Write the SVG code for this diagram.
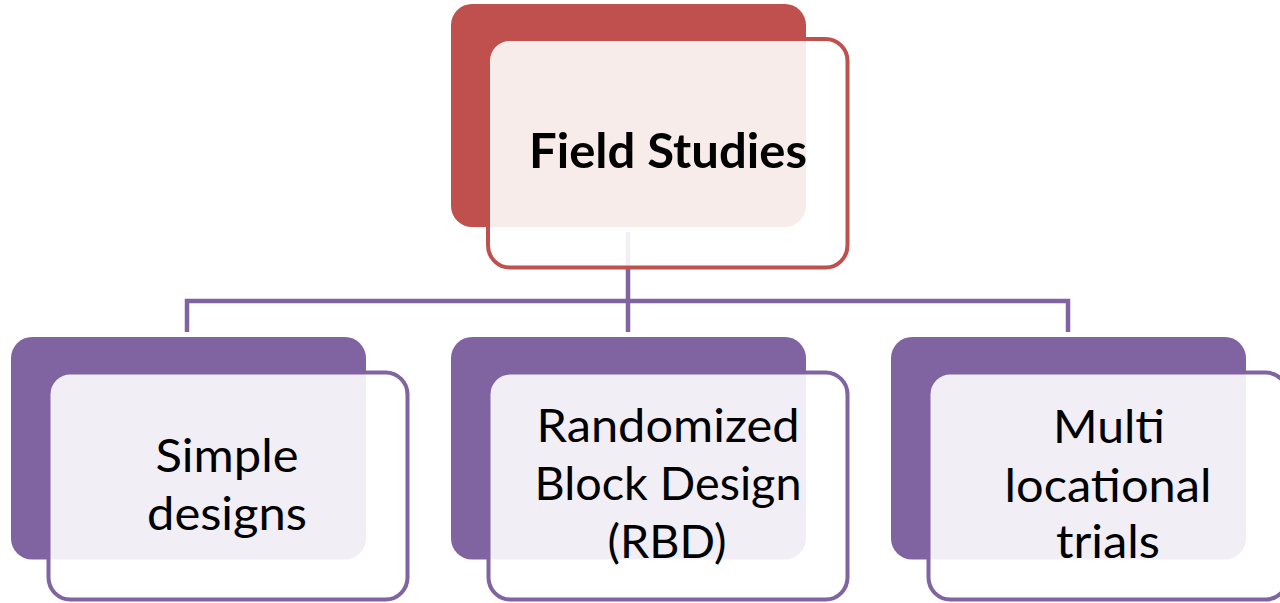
<svg xmlns="http://www.w3.org/2000/svg" width="1280" height="603" viewBox="0 0 1280 603">
<style>
.bgR{fill:#C0504D}
.fgR{fill:#FFFFFF;fill-opacity:0.89;stroke:#C0504D;stroke-width:4}
.bgP{fill:#8064A2}
.fgP{fill:#FFFFFF;fill-opacity:0.89;stroke:#8064A2;stroke-width:4}
.conn{fill:none;stroke:#8064A2;stroke-width:4.5;stroke-linejoin:miter}
.t{font-family:Lato,"Open Sans","Liberation Sans",sans-serif;font-size:46px;fill:#000;text-anchor:middle}
.tb{font-family:Lato,"Open Sans","Liberation Sans",sans-serif;font-size:48px;font-weight:bold;fill:#000;text-anchor:middle}
</style>
<rect width="1280" height="603" fill="#FFFFFF"/>
<g id="connectors">
<path class="conn" d="M628 232 V332"/>
<path class="conn" d="M187 332 V301 H1068 V332"/>
</g>
<g id="node-field-studies">
<rect class="bgR" x="451" y="4" width="355" height="223" rx="21"/>
<rect class="fgR" x="488" y="39" width="359.5" height="228.5" rx="22"/>
<text class="tb" x="668" y="168" textLength="278" lengthAdjust="spacingAndGlyphs">Field Studies</text>
</g>
<g id="node-simple-designs">
<rect class="bgP" x="11" y="337" width="355" height="222.5" rx="21"/>
<rect class="fgP" x="48.5" y="372.5" width="359" height="227" rx="22"/>
<text class="t" x="227" y="472" textLength="143" lengthAdjust="spacingAndGlyphs">Simple</text>
<text class="t" x="227" y="530" textLength="160" lengthAdjust="spacingAndGlyphs">designs</text>
</g>
<g id="node-rbd">
<rect class="bgP" x="451" y="337" width="355" height="222.5" rx="21"/>
<rect class="fgP" x="488.5" y="372.5" width="359" height="227" rx="22"/>
<text class="t" x="668" y="442" textLength="263" lengthAdjust="spacingAndGlyphs">Randomized</text>
<text class="t" x="668" y="500" textLength="267" lengthAdjust="spacingAndGlyphs">Block Design</text>
<text class="t" x="667" y="558" textLength="119" lengthAdjust="spacingAndGlyphs">(RBD)</text>
</g>
<g id="node-multi-locational">
<rect class="bgP" x="891" y="337" width="355" height="222.5" rx="21"/>
<rect class="fgP" x="928.5" y="372.5" width="359" height="227" rx="22"/>
<text class="t" x="1109" y="443" textLength="112" lengthAdjust="spacingAndGlyphs">Multi</text>
<text class="t" x="1108" y="502" textLength="207" lengthAdjust="spacingAndGlyphs">locational</text>
<text class="t" x="1108" y="558" textLength="104" lengthAdjust="spacingAndGlyphs">trials</text>
</g>
</svg>
